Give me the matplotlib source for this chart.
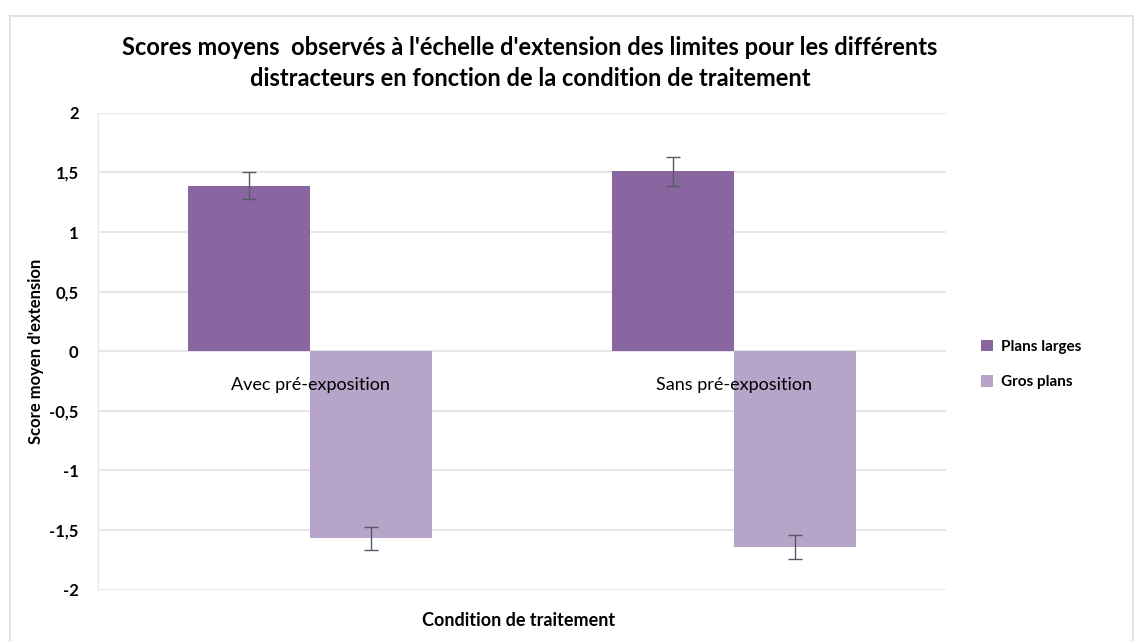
import matplotlib.pyplot as plt
import matplotlib.patches as mpatches
import numpy as np

conditions = ["Avec pré-exposition", "Sans pré-exposition"]
series_names = ["Plans larges", "Gros plans"]
plans_larges = [1.39, 1.51]
plans_larges_err = [0.11, 0.12]
gros_plans = [-1.57, -1.64]
gros_plans_err = [0.10, 0.10]
yticks = [2, 1.5, 1, 0.5, 0, -0.5, -1, -1.5, -2]
ytick_labels = ["2", "1,5", "1", "0,5", "0", "-0,5", "-1", "-1,5", "-2"]

plt.rcParams["font.family"] = ["Lato", "DejaVu Sans"]

fig = plt.figure(figsize=(11.4, 6.41), dpi=100)
ax = fig.add_axes([0.086, 0.08, 0.744, 0.744])

# cadre gris autour du graphique
fig.patches.append(mpatches.Rectangle((0.009, -0.01), 0.985, 0.985, transform=fig.transFigure,
                                      fill=False, edgecolor="#e4e0e0", linewidth=1.5))

x = np.arange(len(conditions))
w = 0.288
err_kw = dict(ecolor="#555a66", elinewidth=1, capsize=5, capthick=1)
ax.bar(x - w / 2, plans_larges, w, yerr=plans_larges_err, color="#8a66a0",
       label=series_names[0], error_kw=err_kw, zorder=3)
ax.bar(x + w / 2, gros_plans, w, yerr=gros_plans_err, color="#b6a5c8",
       label=series_names[1], error_kw=err_kw, zorder=3)

ax.set_xlim(-0.5, 1.5)
ax.set_ylim(-2, 2)
ax.set_yticks(yticks)
ax.set_yticklabels(ytick_labels, fontweight="bold", fontsize=12)
ax.grid(axis="y", color="#ebe6e6", linewidth=1.5, zorder=0)
ax.set_axisbelow(True)
ax.tick_params(axis="y", length=0, pad=14)

ax.spines["bottom"].set_visible(False)
ax.spines["top"].set_visible(False)
ax.spines["right"].set_visible(False)
ax.spines["left"].set_color("#ebe6e6")
ax.set_xticks([])

# étiquettes des catégories sous la ligne zéro, par-dessus les barres
for xi, name in zip(x, conditions):
    ax.annotate(name, xy=(xi, 0), xytext=(0, -24), textcoords="offset points",
                ha="center", va="center", fontsize=13, zorder=6)

ax.set_ylabel("Score moyen d'extension", fontweight="bold", fontsize=12, labelpad=4)
fig.text(0.455, 0.032, "Condition de traitement", ha="center", va="center",
         fontweight="bold", fontsize=13)

fig.text(0.465, 0.902, "Scores moyens  observés à l'échelle d'extension des limites pour les différents\n"
         "distracteurs en fonction de la condition de traitement",
         ha="center", va="center", fontweight="bold", fontsize=17, linespacing=1.45)

ax.legend(loc="center left", bbox_to_anchor=(1.025, 0.472), frameon=False,
          handlelength=0.8, handleheight=0.8, handletextpad=0.5, labelspacing=1.4,
          prop=dict(weight="bold", size=11))

fig.savefig("out.png", dpi=100)
